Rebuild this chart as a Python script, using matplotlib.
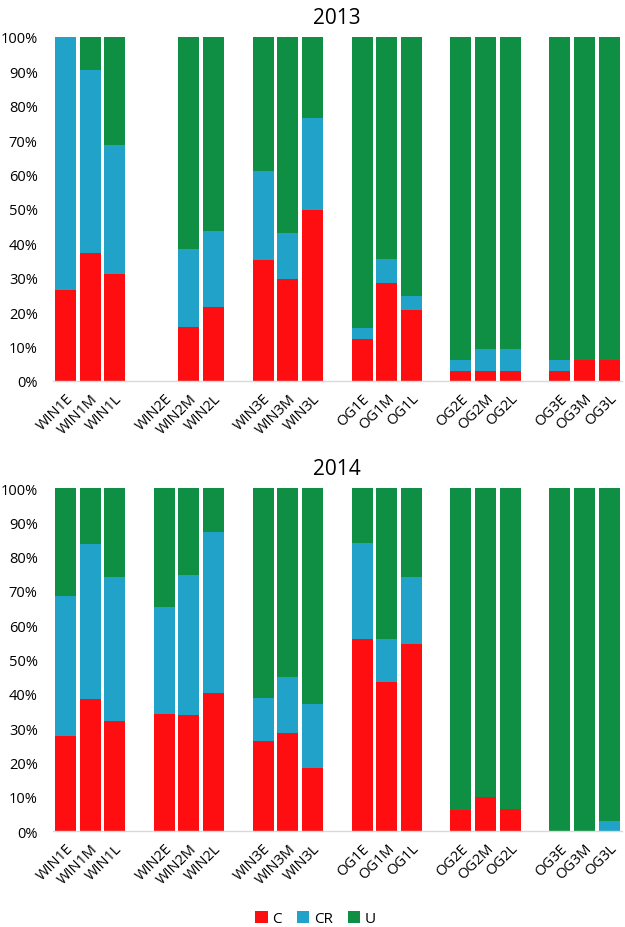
import numpy as np
import matplotlib
matplotlib.use("Agg")
import matplotlib.pyplot as plt
from matplotlib.patches import Patch

plt.rcParams.update({
    "font.family": ["Open Sans", "DejaVu Sans"],
    "font.size": 10,
})

# Categories (blank entries are the gaps between sites)
labels = ["WIN1E", "WIN1M", "WIN1L", "",
          "WIN2E", "WIN2M", "WIN2L", "",
          "WIN3E", "WIN3M", "WIN3L", "",
          "OG1E", "OG1M", "OG1L", "",
          "OG2E", "OG2M", "OG2L", "",
          "OG3E", "OG3M", "OG3L"]
years = ["2013", "2014"]

# Shares in % (None = gap slot)
c_2013 = [26.5, 37.2, 31.0, None, 0, 15.8, 21.6, None, 35.3, 29.7, 49.7, None,
          12.3, 28.4, 20.5, None, 2.9, 2.9, 2.9, None, 2.9, 6.0, 6.0]
cr_2013 = [73.5, 53.1, 37.5, None, 0, 22.7, 21.9, None, 25.7, 13.4, 26.8, None,
           3.1, 7.1, 4.3, None, 3.1, 6.3, 6.3, None, 3.1, 0, 0]
u_2013 = [0, 9.7, 31.5, None, 0, 61.5, 56.5, None, 39.0, 56.9, 23.5, None,
          84.6, 64.5, 75.2, None, 94.0, 90.8, 90.8, None, 94.0, 94.0, 94.0]

c_2014 = [27.8, 38.4, 32.0, None, 34.1, 33.9, 40.2, None, 26.2, 28.6, 18.3, None,
          55.9, 43.4, 54.6, None, 6.2, 9.9, 6.5, None, 0, 0, 0]
cr_2014 = [40.7, 45.2, 42.0, None, 31.1, 40.7, 47.1, None, 12.7, 16.2, 18.8, None,
           28.2, 12.5, 19.4, None, 0, 0, 0, None, 0, 0, 2.9]
u_2014 = [31.5, 16.4, 26.0, None, 34.8, 25.4, 12.7, None, 61.1, 55.2, 62.9, None,
          15.9, 44.1, 26.0, None, 93.8, 90.1, 93.5, None, 100, 100, 97.1]

series_names = ["C", "CR", "U"]
colors = ["#FE0E10", "#21A3C9", "#0F8F44"]

data = {"2013": [c_2013, cr_2013, u_2013], "2014": [c_2014, cr_2014, u_2014]}

fig = plt.figure(figsize=(6.25, 9.28), dpi=100)
ax_rects = [[0.0848, 0.5884, 0.9098, 0.3707], [0.0848, 0.1034, 0.9098, 0.3696]]

x = np.arange(len(labels))
for year, rect in zip(years, ax_rects):
    ax = fig.add_axes(rect)
    bottom = np.zeros(len(labels))
    for vals, col in zip(data[year], colors):
        v = np.array([0 if a is None else a for a in vals], dtype=float)
        ax.bar(x, v, bottom=bottom, width=0.85, color=col, edgecolor="none")
        bottom += v
    ax.set_xlim(-0.5, len(labels) - 0.5)
    ax.set_ylim(0, 100)
    ax.set_yticks(np.arange(0, 101, 10))
    ax.set_yticklabels([f"{t}%" for t in range(0, 101, 10)], fontsize=10.5)
    ax.set_xticks(x)
    ax.set_xticklabels(labels, rotation=45, ha="right", rotation_mode="anchor", fontsize=10.5)
    ax.tick_params(axis="both", length=0)
    ax.tick_params(axis="y", pad=11)
    ax.tick_params(axis="x", pad=7)
    for s in ["top", "right", "left"]:
        ax.spines[s].set_visible(False)
    ax.spines["bottom"].set_color("#D9D9D9")
    ax.spines["bottom"].set_linewidth(1.0)
    ax.set_title(year, fontsize=15, pad=10)

handles = [Patch(facecolor=c, label=n) for n, c in zip(series_names, colors)]
fig.legend(handles=handles, loc="center", bbox_to_anchor=(0.505, 0.009), ncol=3,
           frameon=False, fontsize=11, handlelength=0.8, handleheight=0.8,
           handletextpad=0.3, columnspacing=1.0)

fig.savefig("out.png", dpi=100)
